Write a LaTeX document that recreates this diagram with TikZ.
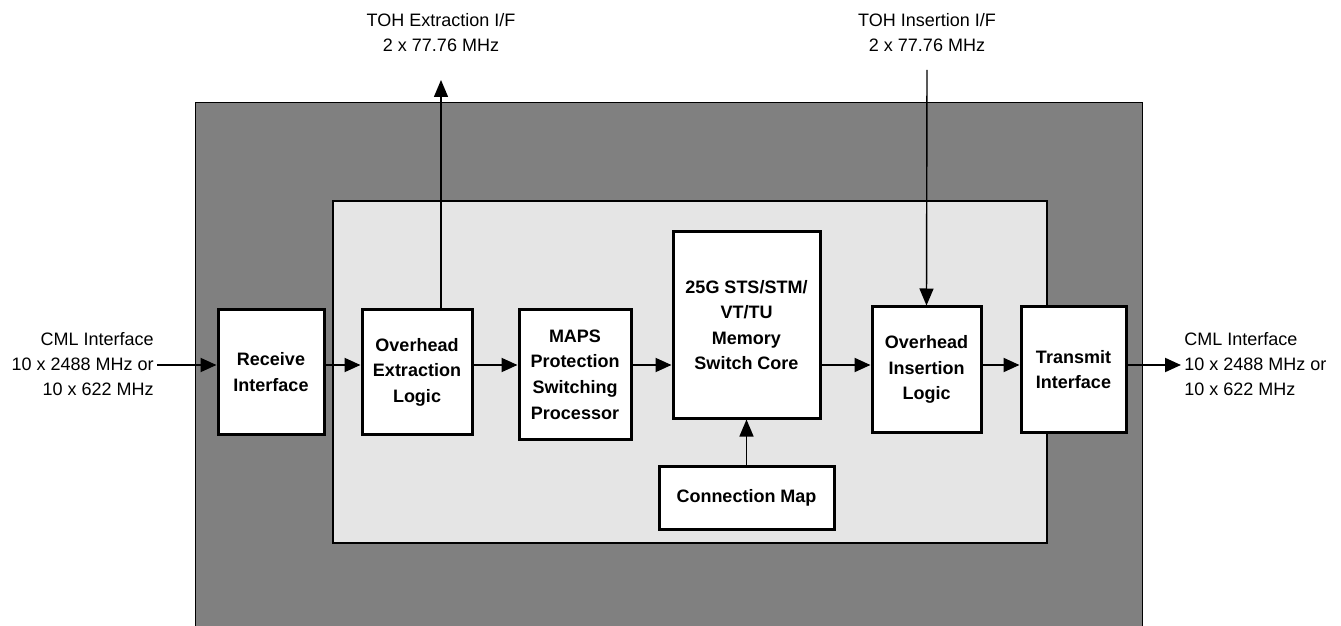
\documentclass[tikz,border=0pt]{standalone}
\usepackage{fontspec}
\setmainfont{Liberation Sans}
\usetikzlibrary{arrows.meta}
\begin{document}
\begin{tikzpicture}[x=0.5pt,y=-0.5pt,
    blk/.style={draw,line width=1.5pt,fill=white,align=center,inner sep=0pt,
        font=\bfseries\fontsize{9pt}{12.8pt}\selectfont},
    lbl/.style={inner sep=1.5pt,font=\fontsize{9pt}{12.5pt}\selectfont},
    flow/.style={line width=1pt,-{Triangle[length=8pt,width=7pt]}},
    tap/.style={line width=0.7pt,-{Triangle[length=8.5pt,width=7pt]}}]
    \useasboundingbox (0,0) rectangle (1341,626);
    \draw[fill=black!50,line width=0.5pt] (195,103) rectangle (1142,640);
    \draw[fill=black!10,line width=0.6pt] (333,201) rectangle (1047,543);
    \coordinate (lane) at (0,365);
    \node[blk,minimum width=53pt,minimum height=62pt] (rx) at (271,372) {Receive\\Interface};
    \node[blk,minimum width=55pt,minimum height=62pt] (oel) at (417,372) {Overhead\\Extraction\\Logic};
    \node[blk,minimum width=56pt,minimum height=64.5pt] (maps) at (575,374.5) {MAPS\\Protection\\Switching\\Processor};
    \node[blk,minimum width=73.5pt,minimum height=93pt] (core) at (746.5,325) {25G STS/STM/\\VT/TU\\Memory\\Switch Core};
    \node[blk,minimum width=87.5pt,minimum height=31.5pt] (cmap) at (746.5,497.5) {Connection Map};
    \node[blk,minimum width=54.5pt,minimum height=62.5pt] (oil) at (926.5,369.5) {Overhead\\Insertion\\Logic};
    \node[blk,minimum width=52.5pt,minimum height=62.5pt] (tx) at (1073.5,369.5) {Transmit\\Interface};
    \node[lbl,align=right,anchor=east] (inL) at (157,364) {CML Interface\\10 x 2488 MHz or\\10 x 622 MHz};
    \node[lbl,align=left,anchor=west] (outR) at (1181,364) {CML Interface\\10 x 2488 MHz or\\10 x 622 MHz};
    \node[lbl,align=center] (tohx) at (441,33) {TOH Extraction I/F\\2 x 77.76 MHz};
    \node[lbl,align=center] (tohi) at (927,33) {TOH Insertion I/F\\2 x 77.76 MHz};
    \coordinate (xup) at (441,80);
    \coordinate (xdn) at (927,70);
    \draw[flow] (inL.east |- lane) -- (rx.west |- lane);
    \draw[flow] (rx.east |- lane) -- (oel.west |- lane);
    \draw[flow] (oel.east |- lane) -- (maps.west |- lane);
    \draw[flow] (maps.east |- lane) -- (core.west |- lane);
    \draw[flow] (core.east |- lane) -- (oil.west |- lane);
    \draw[flow] (oil.east |- lane) -- (tx.west |- lane);
    \draw[flow] (tx.east |- lane) -- (outR.west |- lane);
    \draw[tap] (cmap.north) -- (core.south);
    \draw[tap] (oel.north -| xup) -- (xup);
    \draw[tap] (xdn) -- (oil.north);
\end{tikzpicture}
\end{document}
